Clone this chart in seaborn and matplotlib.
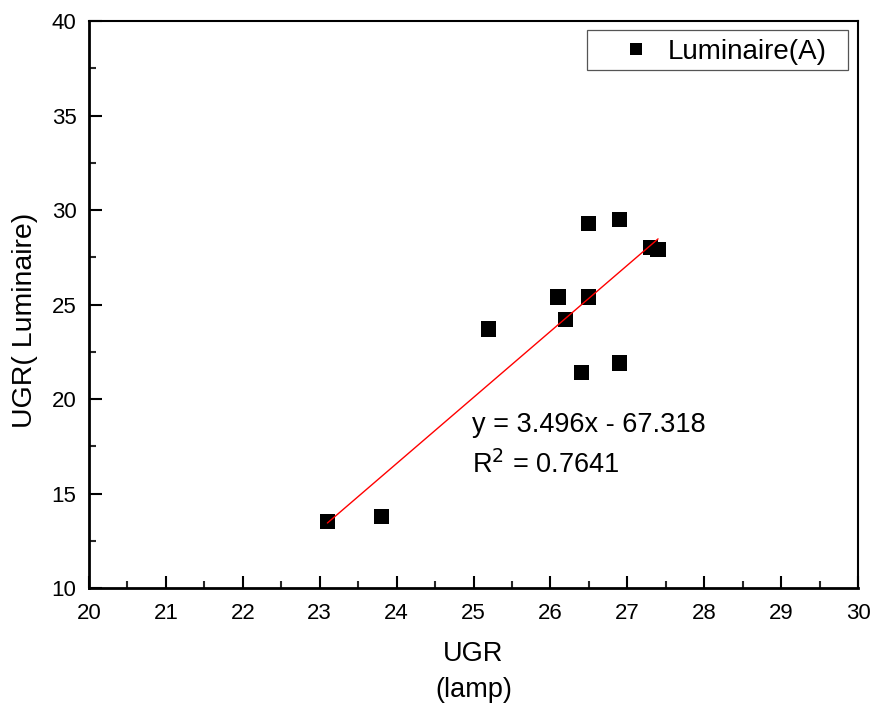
import matplotlib
matplotlib.use("Agg")
import matplotlib.pyplot as plt
import seaborn as sns
import numpy as np
import pandas as pd
from matplotlib.ticker import MultipleLocator
from matplotlib.patches import Rectangle

ugr_lamp = [23.1, 23.8, 25.2, 26.1, 26.2, 26.4, 26.5, 26.5, 26.9, 26.9, 27.3, 27.4]
ugr_luminaire = [13.5, 13.8, 23.7, 25.4, 24.2, 21.4, 25.4, 29.3, 21.9, 29.5, 28.0, 27.9]
series_name = "Luminaire(A)"
fit_slope = 3.496
fit_intercept = -67.318
fit_r2 = 0.7641

df = pd.DataFrame({"x": ugr_lamp, "y": ugr_luminaire, "s": series_name})

sns.set_theme(style="white")
plt.rcParams["font.family"] = ["Liberation Sans", "DejaVu Sans"]
plt.rcParams["text.color"] = "black"
plt.rcParams["axes.labelcolor"] = "black"

fig = plt.figure(figsize=(8.74, 7.04), dpi=100)
ax = fig.add_axes([89/874, 1-588/704, (858-89)/874, (588-21)/704])

sns.scatterplot(data=df, x="x", y="y", hue="s", palette=["black"], marker="s",
                s=120, edgecolor="black", linewidth=0, ax=ax, zorder=3)

xf = np.array([min(ugr_lamp), max(ugr_lamp)])
sns.lineplot(x=xf, y=fit_slope*xf + fit_intercept, color="red", lw=1, ax=ax,
             legend=False, zorder=4)

ax.set_xlim(20, 30)
ax.set_ylim(10, 40)
ax.xaxis.set_major_locator(MultipleLocator(1))
ax.xaxis.set_minor_locator(MultipleLocator(0.5))
ax.yaxis.set_major_locator(MultipleLocator(5))
ax.yaxis.set_minor_locator(MultipleLocator(2.5))
ax.tick_params(which="major", direction="in", length=9, width=1.5, labelsize=16,
               colors="black", bottom=True, left=True, top=False, right=False, pad=9)
ax.tick_params(axis="x", which="major", pad=11)
ax.tick_params(which="minor", direction="in", length=5, width=1.5,
               bottom=True, left=True, top=False, right=False)
for sp in ["left", "bottom"]:
    ax.spines[sp].set_linewidth(2)
    ax.spines[sp].set_color("black")
for sp in ["top", "right"]:
    ax.spines[sp].set_linewidth(1.5)
    ax.spines[sp].set_color("black")

ax.set_xlabel("UGR\n(lamp)", fontsize=19.5, linespacing=1.5, color="black")
ax.xaxis.set_label_coords(0.5, -0.093, transform=ax.transAxes)
ax.xaxis.label.set_va("top")
ax.set_ylabel("UGR( Luminaire)", fontsize=20.5, color="black")
ax.yaxis.set_label_coords((25-89)/769, 0.4727)
ax.yaxis.label.set_va("center")
ax.yaxis.label.set_ha("center")

ax.text(24.98, 18.6, f"y = {fit_slope}x - {abs(fit_intercept)}", fontsize=19.5,
        va="center", ha="left", color="black")
ax.text(24.98, 16.5, f"R$^{{2}}$ = {fit_r2}", fontsize=19.5, va="center", ha="left",
        color="black")

# legend frame box
ax.add_patch(Rectangle(((587-89)/769, (588-70)/567), 261/769, 40/567,
                       transform=ax.transAxes, fill=True, facecolor="white",
                       edgecolor="#555555", lw=0.9, zorder=5))
leg = ax.legend(loc="center left", bbox_to_anchor=((622-89)/769, (588-52)/567),
                fontsize=20, frameon=False, borderpad=0, borderaxespad=0,
                handletextpad=0.64, markerscale=0.85, handlelength=1.0,
                labelcolor="black")
leg.set_zorder(6)

fig.savefig("out.png", dpi=100)
